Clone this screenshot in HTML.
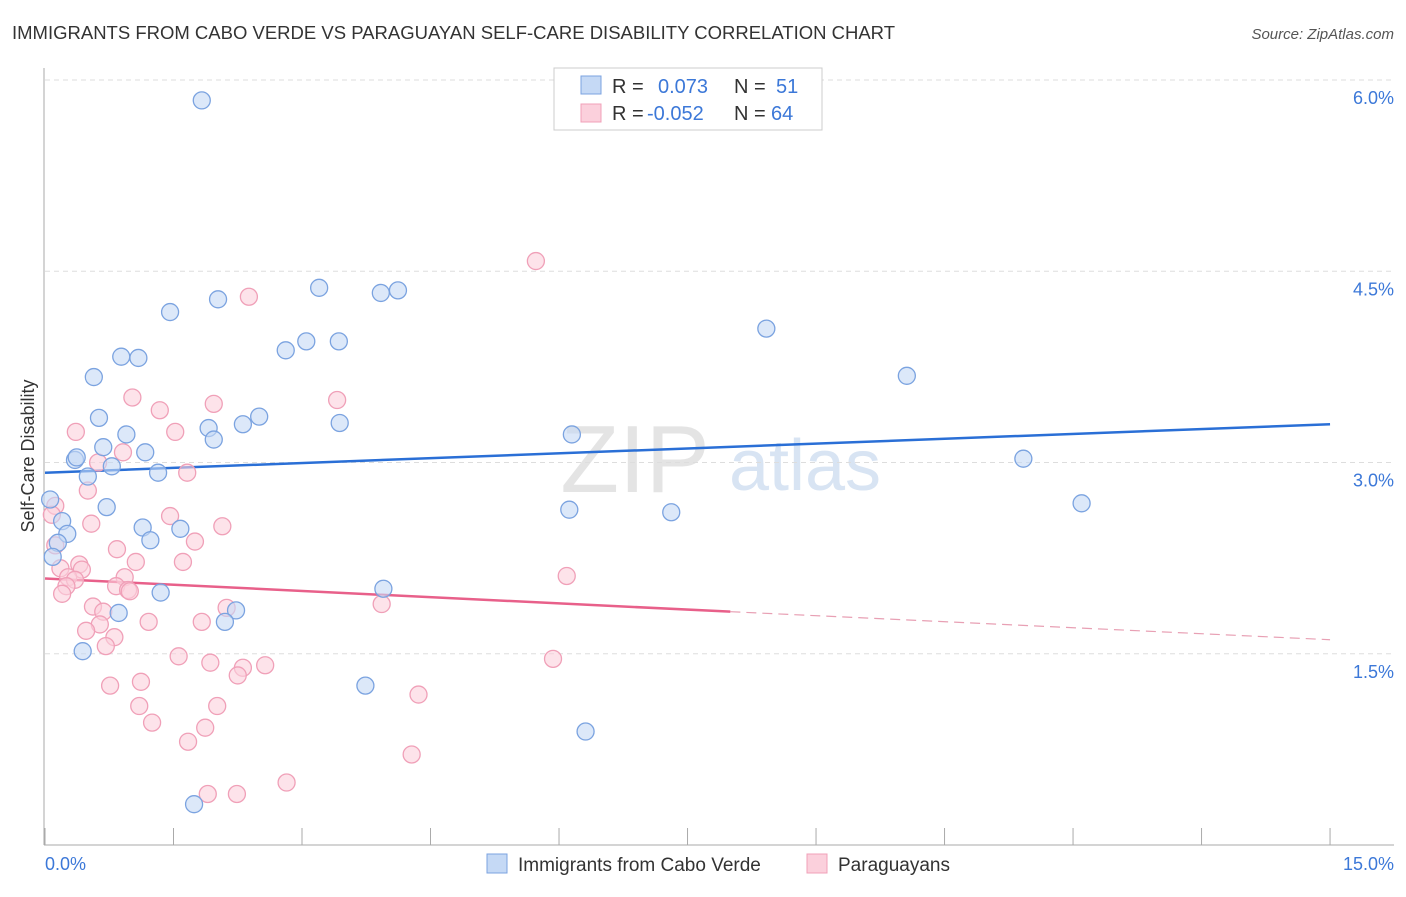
<!DOCTYPE html>
<html><head><meta charset="utf-8"><style>
body{margin:0;background:#fff;font-family:"Liberation Sans",sans-serif;}
svg text{font-family:"Liberation Sans",sans-serif;}
</style></head><body>
<svg id="chart" width="1406" height="892">
<text x="12" y="39" font-size="18.5" fill="#333">IMMIGRANTS FROM CABO VERDE VS PARAGUAYAN SELF-CARE DISABILITY CORRELATION CHART</text>
<text x="1394" y="39" font-size="15" fill="#555" font-style="italic" text-anchor="end">Source: ZipAtlas.com</text>
<g><text x="635" y="492" font-size="96" fill="#e4e4e4" text-anchor="middle" font-family="Liberation Serif,serif">ZIP</text><text x="805" y="490" font-size="72" fill="#d8e4f3" text-anchor="middle">atlas</text></g>
<g id="grid"></g><g id="axes"></g><g id="lines"></g><g id="pts"></g>
<text transform="translate(34,456) rotate(-90)" font-size="18" fill="#333" text-anchor="middle">Self-Care Disability</text>
<text x="45" y="870" font-size="18" fill="#3c78d8">0.0%</text>
<text x="1394" y="870" font-size="18" fill="#3c78d8" text-anchor="end">15.0%</text>
<g>
<rect x="554" y="68" width="268" height="62" fill="#fff" stroke="#ccc"/>
<rect x="581" y="76" width="20" height="18" fill="#c5d9f5" stroke="#7ba3e0"/>
<rect x="581" y="104" width="20" height="18" fill="#fbd0dc" stroke="#f0a0b8"/>
<text x="612" y="93" font-size="20" fill="#333">R =  <tspan fill="#3c78d8" x="658">0.073</tspan><tspan x="734">N = </tspan><tspan fill="#3c78d8" x="776">51</tspan></text>
<text x="612" y="120" font-size="20" fill="#333">R = <tspan fill="#3c78d8" x="647">-0.052</tspan><tspan x="734">N = </tspan><tspan fill="#3c78d8" x="771">64</tspan></text>
</g>
<g>
<rect x="487" y="854" width="20" height="19" fill="#c5d9f5" stroke="#7ba3e0"/><text x="518" y="871" font-size="19" fill="#333">Immigrants from Cabo Verde</text>
<rect x="807" y="854" width="20" height="19" fill="#fbd0dc" stroke="#f0a0b8"/><text x="838" y="871" font-size="19" fill="#333">Paraguayans</text>
</g>
</svg>
<script>
const yTicks=[1.5,3.0,4.5,6.0];
const xTicks=[0,1.5,3,4.5,6,7.5,9,10.5,12,13.5,15];
const blueX=[1.83,1.46,2.02,3.2,3.92,4.12,8.42,2.81,3.05,3.43,0.89,1.09,0.57,10.06,0.63,0.95,1.91,1.97,2.31,2.5,3.44,6.15,0.68,0.35,0.37,1.17,0.78,1.32,0.5,11.42,12.1,0.06,0.72,6.12,7.31,0.2,1.14,1.58,0.26,0.15,1.23,0.09,3.95,1.35,0.86,2.23,2.1,0.44,3.74,6.31,1.74];
const blueY=[5.84,4.18,4.28,4.37,4.33,4.35,4.05,3.88,3.95,3.95,3.83,3.82,3.67,3.68,3.35,3.22,3.27,3.18,3.3,3.36,3.31,3.22,3.12,3.02,3.04,3.08,2.97,2.92,2.89,3.03,2.68,2.71,2.65,2.63,2.61,2.54,2.49,2.48,2.44,2.37,2.39,2.26,2.01,1.98,1.82,1.84,1.75,1.52,1.25,0.89,0.32];
const pinkX=[5.73,2.38,1.02,1.34,1.97,3.41,0.36,1.52,0.91,0.62,1.66,0.5,0.12,0.08,0.54,1.46,2.07,0.84,1.75,0.12,0.4,1.06,1.61,0.18,0.43,0.93,0.27,0.35,6.09,0.25,0.83,0.97,0.2,0.99,3.93,0.56,0.68,2.12,1.21,1.83,0.64,0.48,0.81,0.71,1.56,5.93,1.93,2.31,2.57,2.25,1.12,0.76,4.36,1.1,2.01,1.25,1.87,1.67,4.28,2.82,1.9,2.24];
const pinkY=[4.58,4.3,3.51,3.41,3.46,3.49,3.24,3.24,3.08,3.0,2.92,2.78,2.66,2.59,2.52,2.58,2.5,2.32,2.38,2.35,2.2,2.22,2.22,2.17,2.16,2.1,2.1,2.08,2.11,2.03,2.03,2.0,1.97,1.99,1.89,1.87,1.83,1.86,1.75,1.75,1.73,1.68,1.63,1.56,1.48,1.46,1.43,1.39,1.41,1.33,1.28,1.25,1.18,1.09,1.09,0.96,0.92,0.81,0.71,0.49,0.4,0.4];
const blueTrend=[[0,2.92],[15,3.3]];
const pinkTrend=[[0,2.09],[8,1.83],[15,1.61]];
const X=v=>45+v*85.67, Y=v=>845-v*127.5;
const NS='http://www.w3.org/2000/svg';
function mk(p,t,a){const e=document.createElementNS(NS,t);for(const k in a)e.setAttribute(k,a[k]);document.getElementById(p).appendChild(e);return e;}
yTicks.forEach(t=>{
 const g=mk('grid','line',{x1:45,x2:1394,y1:Y(t),y2:Y(t),stroke:'#ddd','stroke-dasharray':'5,4'});
 
 
 const l=mk('grid','text',{x:1394,y:Y(t)+24,'font-size':18,fill:'#3c78d8','text-anchor':'end'});l.textContent=t.toFixed(1)+'%';
 
 
});
const ax=mk('axes','line',{x1:44,x2:44,y1:68,y2:845,stroke:'#aaa'});


const bx=mk('axes','line',{x1:44,x2:1394,y1:845,y2:845,stroke:'#aaa'});


xTicks.forEach(t=>{const k=mk('axes','line',{x1:X(t),x2:X(t),y1:828,y2:845,stroke:'#aaa'});
 
 });
function pts(xs,ys,f,s,name){xs.forEach((x,i)=>{const c=mk('pts','circle',{cx:X(x),cy:Y(ys[i]),r:8.5,fill:f,'fill-opacity':0.6,stroke:s,'stroke-width':1.3});
 
 });}
pts(pinkX,pinkY,'#fbd0dc','#f0a0b8','paraguayan-point');
pts(blueX,blueY,'#c5d9f5','#7ba3e0','cabo-verde-point');
const bl=mk('lines','line',{x1:X(blueTrend[0][0]),y1:Y(blueTrend[0][1]),x2:X(blueTrend[1][0]),y2:Y(blueTrend[1][1]),stroke:'#2a6fd6','stroke-width':2.5});


const pl=mk('lines','line',{x1:X(pinkTrend[0][0]),y1:Y(pinkTrend[0][1]),x2:X(pinkTrend[1][0]),y2:Y(pinkTrend[1][1]),stroke:'#e8608a','stroke-width':2.5});


const pd=mk('lines','line',{x1:X(pinkTrend[1][0]),y1:Y(pinkTrend[1][1]),x2:X(pinkTrend[2][0]),y2:Y(pinkTrend[2][1]),stroke:'#e8a0b4','stroke-width':1.2,'stroke-dasharray':'10,6'});


</script>
</body></html>
